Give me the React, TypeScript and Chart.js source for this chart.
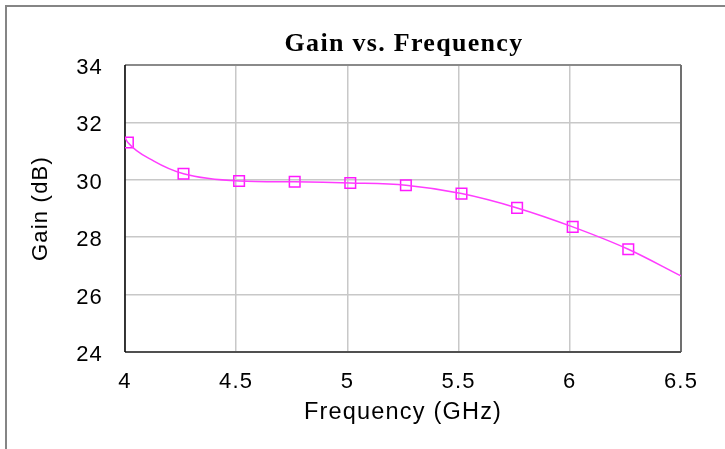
import React, { useEffect, useRef } from "react";
import { Chart, registerables } from "chart.js";

Chart.register(...registerables);

const chartTitle = "Gain vs. Frequency";
const xAxisTitle = "Frequency (GHz)";
const yAxisTitle = "Gain (dB)";
const xTicks = [4, 4.5, 5, 5.5, 6, 6.5];
const yTicks = [24, 26, 28, 30, 32, 34];

// Marker (measured) points
const markerFreq = [4.013, 4.263, 4.513, 4.763, 5.013, 5.263, 5.513, 5.763, 6.013, 6.263];
const markerGain = [31.3, 30.21, 29.96, 29.93, 29.89, 29.81, 29.52, 29.02, 28.36, 27.58];

// Smooth trace points
const curveFreq = [4.0, 4.013, 4.13, 4.263, 4.513, 4.763, 5.013, 5.263, 5.513, 5.763, 6.013, 6.263, 6.5];
const curveGain = [31.47, 31.3, 30.65, 30.21, 29.96, 29.93, 29.89, 29.81, 29.52, 29.02, 28.36, 27.58, 26.65];

const FONT = '"Liberation Sans", Arial, sans-serif';

const framePlugin = {
  id: "frame",
  beforeDraw(chart: any) {
    const ctx = chart.ctx;
    ctx.save();
    ctx.fillStyle = "#ffffff";
    ctx.fillRect(0, 0, chart.width, chart.height);
    ctx.fillStyle = "#858585";
    ctx.fillRect(5, 5, 2, chart.height - 5);
    ctx.fillRect(5, 5, chart.width - 5, 2);
    ctx.restore();
    ctx.letterSpacing = "1.2px";
  },
  beforeDatasetsDraw(chart: any) {
    const { ctx, chartArea: a } = chart;
    ctx.save();
    ctx.lineWidth = 2;
    ctx.strokeStyle = "#8a8a8a";
    ctx.beginPath();
    ctx.moveTo(a.left, a.top);
    ctx.lineTo(a.right, a.top);
    ctx.stroke();
    ctx.strokeStyle = "#707070";
    ctx.beginPath();
    ctx.moveTo(a.right, a.top);
    ctx.lineTo(a.right, a.bottom);
    ctx.stroke();
    ctx.strokeStyle = "#505050";
    ctx.beginPath();
    ctx.moveTo(a.left, a.bottom);
    ctx.lineTo(a.right, a.bottom);
    ctx.stroke();
    ctx.lineWidth = 1.5;
    ctx.strokeStyle = "#000000";
    ctx.beginPath();
    ctx.moveTo(a.left, a.top);
    ctx.lineTo(a.left, a.bottom);
    ctx.stroke();
    ctx.restore();
  },
  afterDraw(chart: any) {
    const { ctx, chartArea: a } = chart;
    ctx.save();
    ctx.letterSpacing = "1.3px";
    ctx.font = 'bold 26px "Liberation Serif", "Times New Roman", serif';
    ctx.fillStyle = "#000000";
    ctx.textAlign = "center";
    ctx.textBaseline = "alphabetic";
    ctx.fillText(chartTitle, (a.left + a.right) / 2 + 1, 51);
    ctx.restore();
  },
};

export default function App() {
  const ref = useRef<HTMLCanvasElement | null>(null);

  useEffect(() => {
    if (!ref.current) return;
    const chart = new Chart(ref.current, {
      type: "scatter",
      data: {
        datasets: [
          {
            label: "trace",
            data: curveFreq.map((f, i) => ({ x: f, y: curveGain[i] })),
            showLine: true,
            borderColor: "#ff3cff",
            borderWidth: 1.5,
            pointRadius: 0,
            cubicInterpolationMode: "monotone",
            fill: false,
          },
          {
            label: "markers",
            data: markerFreq.map((f, i) => ({ x: f, y: markerGain[i] })),
            showLine: false,
            pointStyle: "rect",
            pointRadius: 7.5,
            pointBorderColor: "#ff1aff",
            pointBackgroundColor: "rgba(0,0,0,0)",
            pointBorderWidth: 1.5,
          },
        ],
      } as any,
      options: {
        responsive: false,
        animation: false,
        events: [],
        layout: { padding: { top: 65, right: 44, left: 0, bottom: 0 } },
        plugins: {
          legend: { display: false },
          title: { display: false },
          tooltip: { enabled: false },
        },
        scales: {
          x: {
            type: "linear",
            min: 4,
            max: 6.5,
            afterFit: (s: any) => {
              s.height = 97;
            },
            afterBuildTicks: (s: any) => {
              s.ticks = xTicks.map((v) => ({ value: v }));
            },
            ticks: {
              color: "#000000",
              font: { family: FONT, size: 22 },
              padding: 17,
              maxRotation: 0,
              autoSkip: false,
              callback: (v: any) => String(v),
            },
            grid: { color: "#c8c8c8", lineWidth: 1.5, drawTicks: false },
            border: { display: false },
            title: {
              display: true,
              text: xAxisTitle,
              color: "#000000",
              font: { family: FONT, size: 23.5 },
              padding: { top: 0, bottom: 22 },
            },
          },
          y: {
            type: "linear",
            min: 24,
            max: 34,
            afterFit: (s: any) => {
              s.width = 125;
            },
            afterBuildTicks: (s: any) => {
              s.ticks = yTicks.map((v) => ({ value: v }));
            },
            ticks: {
              color: "#000000",
              font: { family: FONT, size: 22 },
              padding: 22,
              labelOffset: 3,
              autoSkip: false,
              callback: (v: any) => String(v),
            },
            grid: { color: "#c8c8c8", lineWidth: 1.5, drawTicks: false },
            border: { display: false },
            title: {
              display: true,
              text: yAxisTitle,
              color: "#000000",
              font: { family: FONT, size: 22 },
              padding: { top: 28, bottom: 0 },
            },
          },
        },
      } as any,
      plugins: [framePlugin],
    });
    return () => chart.destroy();
  }, []);

  return (
    <div style={{ position: "fixed", left: 0, top: 0, width: 725, height: 449, background: "#fff" }}>
      <canvas ref={ref} width={725} height={449} style={{ display: "block", width: 725, height: 449 }} />
    </div>
  );
}
